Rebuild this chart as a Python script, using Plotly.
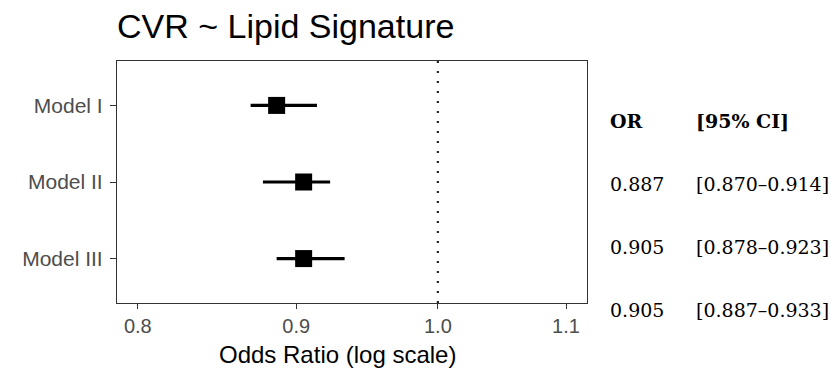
import math
import plotly.graph_objects as go

models = ["Model I", "Model II", "Model III"]
odds_ratio = [0.887, 0.905, 0.905]
ci_low = [0.870, 0.878, 0.887]
ci_high = [0.914, 0.923, 0.933]
x_ticks = [0.8, 0.9, 1.0, 1.1]
x_tick_labels = ["0.8", "0.9", "1.0", "1.1"]
title_text = "CVR ~ Lipid Signature"
x_title = "Odds Ratio (log scale)"
table_headers = ["OR", "[95% CI]"]

W, H = 838, 370
L, R, T, B = 117, 251, 61, 67
plot_h = H - T - B

fig = go.Figure()
fig.add_trace(go.Scatter(
    x=odds_ratio, y=models, mode="markers",
    marker=dict(symbol="square", size=17, color="black", line=dict(width=0)),
    error_x=dict(type="data", symmetric=False,
                 array=[h - o for h, o in zip(ci_high, odds_ratio)],
                 arrayminus=[o - l for o, l in zip(odds_ratio, ci_low)],
                 width=0, thickness=3.2, color="black"),
    showlegend=False, hoverinfo="x+y",
))

fig.add_vline(x=1.0, line=dict(color="#222222", width=2.2, dash="2px,8px"), layer="below")

fig.update_layout(
    width=W, height=H,
    margin=dict(l=L, r=R, t=T, b=B, pad=0),
    paper_bgcolor="white", plot_bgcolor="white",
    font=dict(family="Liberation Sans, Arial, sans-serif"),
    title=dict(text=title_text, x=0, xref="paper", xanchor="left",
               y=1 - 26 / H, yref="container", yanchor="middle",
               font=dict(size=34, color="black")),
    xaxis=dict(type="log", range=[math.log10(0.7877), math.log10(1.1173)],
               tickvals=x_ticks, ticktext=x_tick_labels,
               ticks="outside", ticklen=5, tickwidth=1.2, tickcolor="#333333",
               tickfont=dict(size=20, color="#4d4d4d"),
               showgrid=False, zeroline=False,
               showline=True, linecolor="#333333", linewidth=1.2, mirror=True),
    yaxis=dict(type="category", categoryorder="array", categoryarray=models,
               range=[2.58, -0.58],
               ticks="outside", ticklen=6, tickwidth=1.2, tickcolor="#333333",
               ticklabelstandoff=3,
               tickfont=dict(size=21, color="#4d4d4d"),
               showgrid=False, zeroline=False,
               showline=True, linecolor="#333333", linewidth=1.2, mirror=True),
)

def px_to_paper_x(px):
    return (px - L) / (W - L - R)

def px_to_paper_y(py):
    return (H - B - py) / plot_h

annotations = []
# x-axis title
annotations.append(dict(text=x_title, xref="paper", yref="paper",
                        x=px_to_paper_x(337), y=px_to_paper_y(354),
                        xanchor="center", yanchor="middle", showarrow=False,
                        font=dict(size=24, color="black",
                                  family="Liberation Sans, Arial, sans-serif")))

serif = "DejaVu Serif, Liberation Serif, serif"
col_x = [608, 694]
header_y = 121
row_y = [183.5, 246.5, 310]
for hx, htxt in zip(col_x, table_headers):
    annotations.append(dict(text="<b>" + htxt + "</b>", xref="paper", yref="paper",
                            x=px_to_paper_x(hx), y=px_to_paper_y(header_y),
                            xanchor="left", yanchor="middle", showarrow=False,
                            font=dict(size=19, color="black", family=serif)))
for i in range(len(models)):
    annotations.append(dict(text=f"{odds_ratio[i]:.3f}", xref="paper", yref="paper",
                            x=px_to_paper_x(col_x[0]), y=px_to_paper_y(row_y[i]),
                            xanchor="left", yanchor="middle", showarrow=False,
                            font=dict(size=19, color="black", family=serif)))
    annotations.append(dict(text=f"[{ci_low[i]:.3f}\u2013{ci_high[i]:.3f}]",
                            xref="paper", yref="paper",
                            x=px_to_paper_x(col_x[1]), y=px_to_paper_y(row_y[i]),
                            xanchor="left", yanchor="middle", showarrow=False,
                            font=dict(size=19, color="black", family=serif)))
fig.update_layout(annotations=annotations)

fig.write_html("out.html", config={"displayModeBar": False},
               post_script="document.body.style.margin='0';document.body.style.padding='0';")
